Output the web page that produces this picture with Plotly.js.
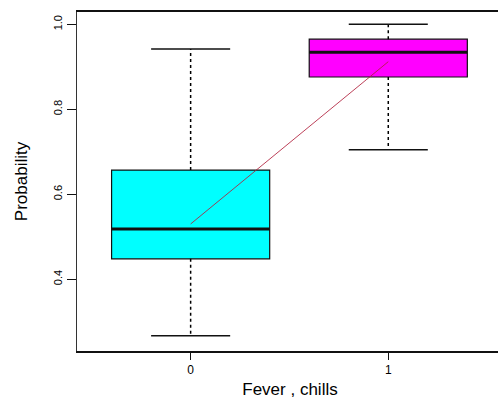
<!DOCTYPE html>
<html>
<head>
<meta charset="utf-8">
<script src="https://cdn.plot.ly/plotly-3.0.1.min.js"></script>
<style>html,body{margin:0;padding:0;background:#fff;overflow:hidden;width:498px;height:399px;}#chart{width:503px;height:399px;}</style>
</head>
<body>
<div id="chart"></div>
<script>
// Data
const categories = ['0', '1'];
const positions = [0, 1];
const lowerWhisker = [0.267, 0.705];
const q1 = [0.448, 0.876];
const median = [0.518, 0.934];
const q3 = [0.657, 0.965];
const upperWhisker = [0.942, 1.0];
const means = [0.530, 0.912];
const fillColors = ['#00ffff', '#ff00ff'];
const yTickVals = [0.4, 0.6, 0.8, 1.0];
const yTickText = ['0.4', '0.6', '0.8', '1.0'];

const boxHalf = 0.4, capHalf = 0.2;
const traces = [];

positions.forEach((p, i) => {
  // dashed whiskers
  traces.push({type: 'scatter', mode: 'lines', x: [p, p], y: [q3[i], upperWhisker[i]],
    line: {color: '#000', width: 1.5, dash: '3px,3px'}, hoverinfo: 'skip', showlegend: false});
  traces.push({type: 'scatter', mode: 'lines', x: [p, p], y: [q1[i], lowerWhisker[i]],
    line: {color: '#000', width: 1.5, dash: '3px,3px'}, hoverinfo: 'skip', showlegend: false});
  // caps
  traces.push({type: 'scatter', mode: 'lines', x: [p - capHalf, p + capHalf], y: [upperWhisker[i], upperWhisker[i]],
    line: {color: '#111', width: 1.5}, hoverinfo: 'skip', showlegend: false});
  traces.push({type: 'scatter', mode: 'lines', x: [p - capHalf, p + capHalf], y: [lowerWhisker[i], lowerWhisker[i]],
    line: {color: '#111', width: 1.5}, hoverinfo: 'skip', showlegend: false});
  // box
  traces.push({type: 'box', x: [p], q1: [q1[i]], median: [median[i]], q3: [q3[i]],
    lowerfence: [q1[i]], upperfence: [q3[i]], width: boxHalf * 2,
    fillcolor: fillColors[i], line: {color: '#111', width: 1.2}, boxpoints: false,
    whiskerwidth: 0, showlegend: false, hoverinfo: 'skip'});
  // thick median
  traces.push({type: 'scatter', mode: 'lines', x: [p - boxHalf, p + boxHalf], y: [median[i], median[i]],
    line: {color: '#111', width: 3}, hoverinfo: 'skip', showlegend: false});
});

// mean connecting line
traces.push({type: 'scatter', mode: 'lines', x: positions, y: means,
  line: {color: '#b0203c', width: 1}, opacity: 0.85, hoverinfo: 'skip', showlegend: false});

const layout = {
  width: 503, height: 399,
  margin: {l: 77, r: 0, t: 12, b: 48},
  paper_bgcolor: '#fff', plot_bgcolor: '#fff',
  font: {family: 'Liberation Sans, Arial, sans-serif', color: '#000'},
  showlegend: false,
  xaxis: {
    range: [-0.575, 1.5805], tickvals: positions, ticktext: categories,
    showgrid: false, zeroline: false,
    showline: true, mirror: true, linecolor: '#111', linewidth: 2,
    ticks: 'outside', ticklen: 7, tickwidth: 1.2, tickcolor: '#111',
    tickfont: {size: 12, family: 'Liberation Sans, Arial, sans-serif'},
    title: {text: 'Fever , chills', font: {size: 17}, standoff: 9}
  },
  yaxis: {
    range: [0.231, 1.029], tickvals: yTickVals, ticktext: yTickText,
    showgrid: false, zeroline: false,
    showline: true, linecolor: '#333', linewidth: 1.5,
    ticks: 'outside', ticklen: 9, tickwidth: 1.2, tickcolor: '#111',
    tickangle: -90,
    tickfont: {size: 11, family: 'Liberation Sans, Arial, sans-serif'},
    title: {text: 'Probability', font: {size: 17}, standoff: 20}
  }
};

Plotly.newPlot('chart', traces, layout, {staticPlot: true, displayModeBar: false});
</script>
</body>
</html>
